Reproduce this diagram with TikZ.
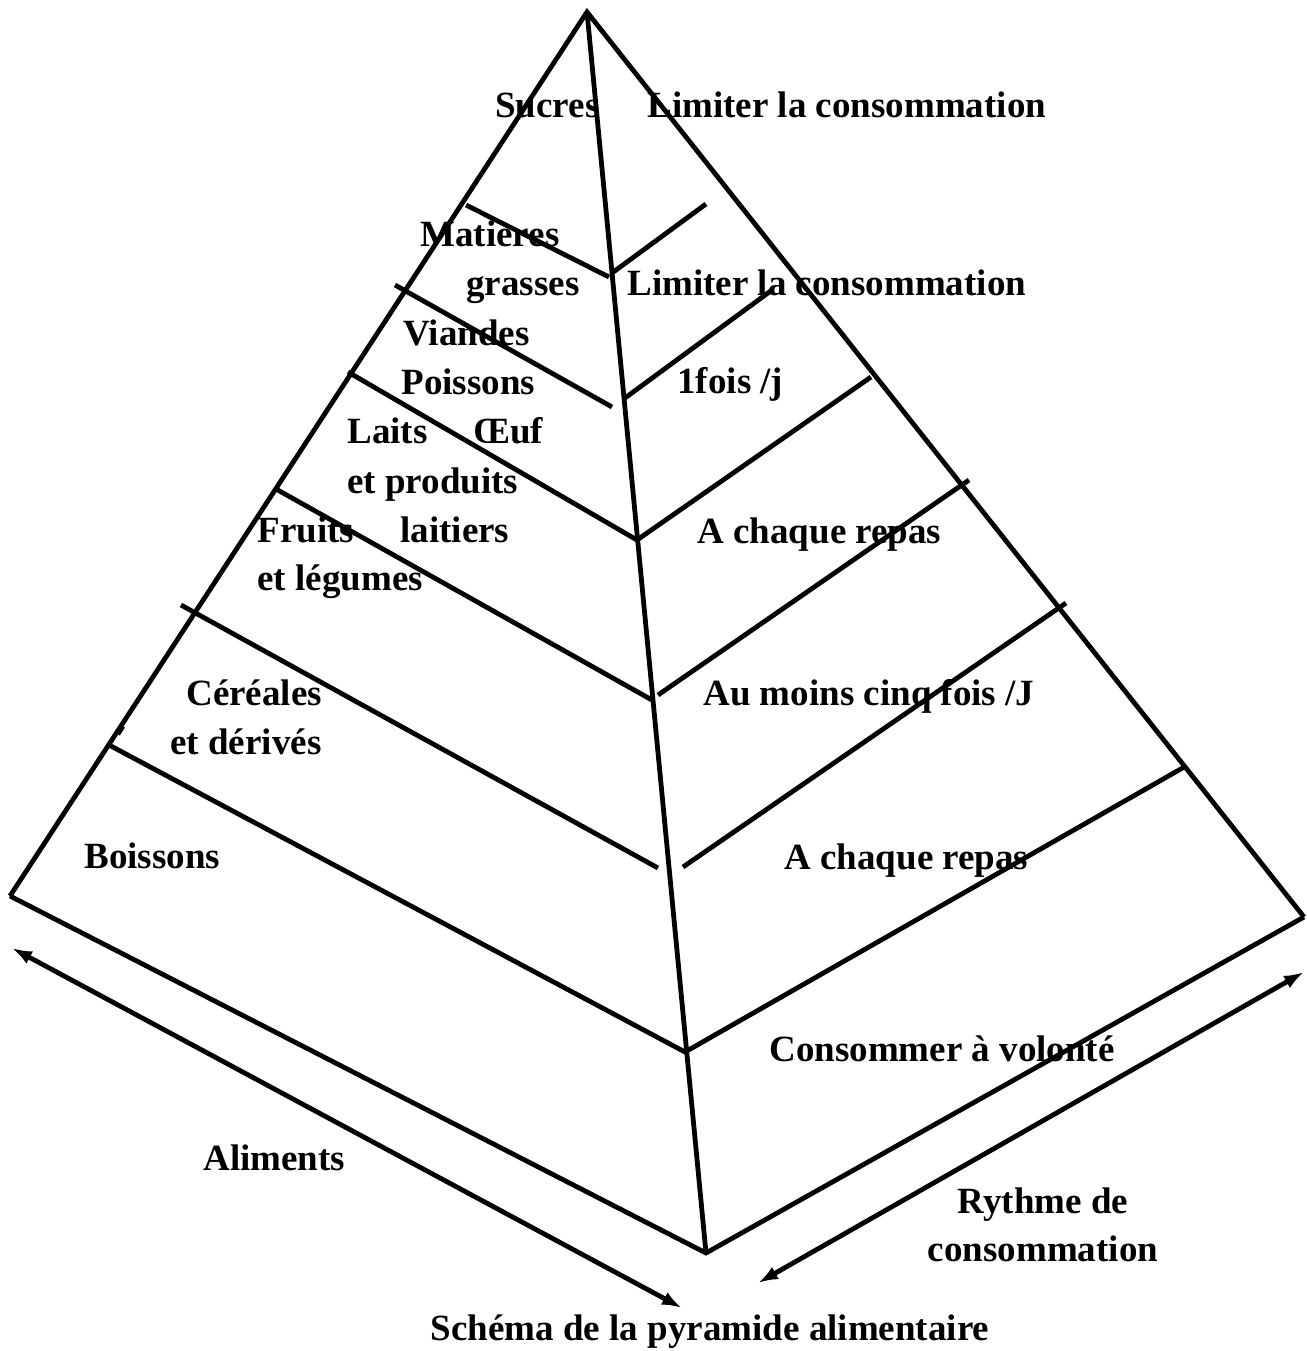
\documentclass[tikz,border=0pt]{standalone}
\usepackage{fontspec}
\setmainfont{Liberation Serif}
\usetikzlibrary{arrows.meta}

\begin{document}
\begin{tikzpicture}[x = 0.5pt, y = -0.5pt]
%\draw[very thin, color = gray](0, 0) grid (1307, 1351);
\tikzstyle{txt} = [anchor = base west, inner sep = 0, font = \fontsize{18.5}{22}\selectfont\bfseries];
\tikzstyle{ctxt} = [txt, anchor = base];
\tikzstyle{line} = [draw, line width = 2.4pt];
\tikzstyle{twoway} = [draw, line width = 2.4pt, {Latex[length = 10pt, width = 7pt]}-{Latex[length = 10pt, width = 7pt]}];
\useasboundingbox (0, 0) rectangle (1307, 1351);
\coordinate (top) at (587, 12);
\coordinate (lc) at (10, 896);
\coordinate (rc) at (1304, 917);
\coordinate (bot) at (706, 1253);
% left column : aliments
\node [txt] at (495, 117) (sucres) {Sucres};
\node [txt] at (420, 246) (matieres) {Matieres};
\node [txt] at (466, 295) (grasses) {grasses};
\node [txt] at (403, 345) (viandes) {Viandes};
\node [txt] at (401, 394) (poissons) {Poissons};
\node [txt] at (347, 443) (laits) {Laits};
\node [txt] at (473, 443) (oeuf) {Œuf};
\node [txt] at (347, 493) (produits) {et produits};
\node [txt] at (257, 542) (fruits) {Fruits};
\node [txt] at (400, 542) (laitiers) {laitiers};
\node [txt] at (257, 590) (legumes) {et légumes};
\node [txt] at (186, 705) (cereales) {Céréales};
\node [txt] at (170, 754) (derives) {et dérivés};
\node [txt] at (84, 868) (boissons) {Boissons};
% right column : rythme
\node [txt] at (647, 117) (limitone) {Limiter la consommation};
\node [txt] at (627, 295) (limittwo) {Limiter la consommation};
\node [txt] at (677, 393) (unefois) {1fois /j};
\node [txt] at (697, 543) (repasone) {A chaque repas};
\node [txt] at (703, 705) (cinqfois) {Au moins cinq fois /J};
\node [txt] at (784, 869) (repastwo) {A chaque repas};
\node [txt] at (769, 1061) (volonte) {Consommer à volonté};
% axes
\node [txt] at (203, 1170) (aliments) {Aliments};
\node [ctxt] at (1043, 1213) (rythme) {Rythme de};
\node [ctxt] at (1043, 1261) (rythmeb) {consommation};
\node [ctxt] at (710, 1340) (titre) {Schéma de la pyramide alimentaire};
% pyramid
\path [line, line join = miter] (lc) -- (top) -- (rc);
\path [line] (top) -- (bot);
\path [line] (lc) -- (bot) -- (rc);
\path [line] (466, 205) -- (609, 277);
\path [line] (612, 273) -- (706, 204);
\path [line] (395, 285) -- (612, 407);
\path [line] (625, 398) -- (772, 290);
\path [line] (348, 372) -- (637, 540) -- (871, 377);
\path [line] (276, 489) -- (652, 700);
\path [line] (658, 695) -- (969, 480);
\path [line] (181, 605) -- (658, 868);
\path [line] (683, 867) -- (1066, 603);
\path [line] (109, 745) -- (685, 1052) -- (1186, 766);
\path [draw, line width = 1pt] (119, 735) -- (124, 727);
\path [twoway] (12, 948) -- (682, 1308);
\path [twoway] (1304, 972) -- (758, 1283);
\end{tikzpicture}
\end{document}
